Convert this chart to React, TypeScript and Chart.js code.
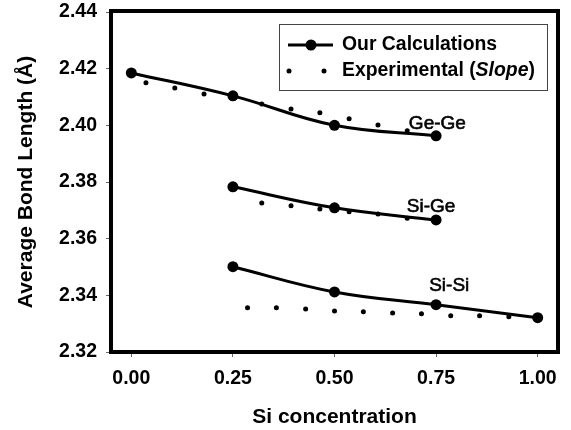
import React, { useEffect, useRef } from "react";
import { Chart, registerables } from "chart.js";

Chart.register(...registerables);

// ---- data ----
const xTickValues = [0, 0.25, 0.5, 0.75, 1.0];
const yTickValues = [2.32, 2.34, 2.36, 2.38, 2.4, 2.42, 2.44];

const calcGeGeX = [0, 0.25, 0.5, 0.75];
const calcGeGeY = [2.4185, 2.4104, 2.4, 2.3963];
const calcSiGeX = [0.25, 0.5, 0.75];
const calcSiGeY = [2.3783, 2.3709, 2.3666];
const calcSiSiX = [0.25, 0.5, 0.75, 1.0];
const calcSiSiY = [2.3501, 2.3412, 2.3367, 2.3321];

const expGeGeX = [0.036, 0.107, 0.179, 0.321, 0.393, 0.464, 0.536, 0.607, 0.679];
const expGeGeY = [2.415, 2.4132, 2.4111, 2.4075, 2.4058, 2.4044, 2.4023, 2.4001, 2.3981];
const expSiGeX = [0.321, 0.393, 0.464, 0.536, 0.607, 0.679];
const expSiGeY = [2.3726, 2.3716, 2.3705, 2.3695, 2.3687, 2.3672];
const expSiSiX = [0.286, 0.357, 0.429, 0.5, 0.571, 0.643, 0.714, 0.786, 0.857, 0.929];
const expSiSiY = [2.3356, 2.3356, 2.3352, 2.3345, 2.3342, 2.3338, 2.3335, 2.3328, 2.3328, 2.3324];

const seriesNames = ["Our Calculations", "Experimental"];
const curveLabels = ["Ge-Ge", "Si-Ge", "Si-Si"];
const curveLabelX = [0.683, 0.678, 0.733];
const curveLabelY = [2.4005, 2.3712, 2.3435];

const FONT = "'Liberation Sans', Arial, Helvetica, sans-serif";

const pts = (xs: number[], ys: number[]) => xs.map((x, i) => ({ x, y: ys[i] }));

const calcStyle = {
  borderColor: "#000",
  backgroundColor: "#000",
  borderWidth: 3,
  pointRadius: 5.5,
  pointBorderWidth: 0,
  tension: 0.4,
  showLine: true,
  fill: false,
};
const expStyle = {
  borderColor: "#000",
  backgroundColor: "#000",
  borderWidth: 0,
  pointRadius: 2.5,
  pointBorderWidth: 0,
  showLine: false,
  fill: false,
};

const bgPlugin = {
  id: "bg",
  beforeDraw(chart: any) {
    const { ctx, width, height } = chart;
    ctx.save();
    ctx.fillStyle = "#fff";
    ctx.fillRect(0, 0, width, height);
    ctx.restore();
  },
};

const overlayPlugin = {
  id: "overlay",
  afterDraw(chart: any) {
    const { ctx, chartArea } = chart;
    const xs = chart.scales.x;
    const ys = chart.scales.y;
    ctx.save();
    // frame
    ctx.strokeStyle = "#000";
    ctx.lineWidth = 4;
    ctx.strokeRect(chartArea.left, chartArea.top - 1, chartArea.right - chartArea.left, chartArea.bottom - chartArea.top + 1);

    // curve labels
    ctx.fillStyle = "#000";
    ctx.strokeStyle = "#000";
    ctx.lineWidth = 0.6;
    ctx.font = `19px ${FONT}`;
    ctx.textAlign = "left";
    ctx.textBaseline = "middle";
    curveLabels.forEach((t, i) => {
      const px = xs.getPixelForValue(curveLabelX[i]);
      const py = ys.getPixelForValue(curveLabelY[i]);
      ctx.fillText(t, px, py);
      ctx.strokeText(t, px, py);
    });

    // legend
    const lx = chartArea.right - 279;
    const ly = chartArea.top + 12;
    const lw = 268;
    const lh = 66;
    ctx.fillStyle = "#fff";
    ctx.fillRect(lx, ly, lw, lh);
    ctx.strokeStyle = "#444";
    ctx.lineWidth = 1;
    ctx.strokeRect(lx + 0.5, ly + 0.5, lw, lh);

    const row1 = ly + 21;
    const row2 = ly + 47;
    ctx.strokeStyle = "#000";
    ctx.lineWidth = 3;
    ctx.beginPath();
    ctx.moveTo(lx + 9, row1);
    ctx.lineTo(lx + 54, row1);
    ctx.stroke();
    ctx.fillStyle = "#000";
    ctx.beginPath();
    ctx.arc(lx + 32, row1, 5.5, 0, Math.PI * 2);
    ctx.fill();
    ctx.beginPath();
    ctx.arc(lx + 10, row2, 2.5, 0, Math.PI * 2);
    ctx.fill();
    ctx.beginPath();
    ctx.arc(lx + 45, row2, 2.5, 0, Math.PI * 2);
    ctx.fill();

    const tx = lx + 63;
    const fs = 19.4;
    ctx.font = `bold ${fs}px ${FONT}`;
    ctx.textAlign = "left";
    ctx.textBaseline = "middle";
    ctx.fillText(seriesNames[0], tx, row1);
    let cx = tx;
    const p1 = seriesNames[1] + " (";
    ctx.fillText(p1, cx, row2);
    cx += ctx.measureText(p1).width;
    ctx.font = `italic bold ${fs}px ${FONT}`;
    ctx.fillText("Slope", cx, row2);
    cx += ctx.measureText("Slope").width;
    ctx.font = `bold ${fs}px ${FONT}`;
    ctx.fillText(")", cx, row2);
    ctx.restore();
  },
};

export default function App() {
  const ref = useRef<HTMLCanvasElement | null>(null);
  useEffect(() => {
    document.body.style.margin = "0";
    const canvas = ref.current;
    if (!canvas) return;
    const chart = new Chart(canvas, {
      type: "line",
      data: {
        datasets: [
          { label: seriesNames[0], data: pts(calcGeGeX, calcGeGeY), ...calcStyle },
          { label: seriesNames[0], data: pts(calcSiGeX, calcSiGeY), ...calcStyle },
          { label: seriesNames[0], data: pts(calcSiSiX, calcSiSiY), ...calcStyle },
          { label: seriesNames[1], data: pts(expGeGeX, expGeGeY), ...expStyle },
          { label: seriesNames[1], data: pts(expSiGeX, expSiGeY), ...expStyle },
          { label: seriesNames[1], data: pts(expSiSiX, expSiSiY), ...expStyle },
        ] as any,
      },
      options: {
        animation: false,
        responsive: false,
        maintainAspectRatio: false,
        devicePixelRatio: 1,
        layout: { padding: { top: 12, right: 13, bottom: 0, left: 0 } },
        plugins: {
          legend: { display: false },
          tooltip: { enabled: false },
        },
        scales: {
          x: {
            type: "linear",
            min: -0.05,
            max: 1.05,
            afterBuildTicks: (s: any) => {
              s.ticks = xTickValues.map((v) => ({ value: v }));
            },
            afterFit: (s: any) => {
              s.height = 78;
              s.paddingLeft = 0;
              s.paddingRight = 0;
            },
            ticks: {
              callback: (v: any) => Number(v).toFixed(2),
              font: { family: FONT, size: 19.5, weight: "bold" },
              color: "#000",
              padding: 10,
              maxRotation: 0,
            },
            grid: { drawOnChartArea: false, drawTicks: true, tickLength: 5, color: "#666" },
            border: { display: false },
            title: {
              display: true,
              text: "Si concentration",
              font: { family: FONT, size: 21, weight: "bold" },
              color: "#000",
              padding: { top: 0, bottom: 0 },
            },
          },
          y: {
            type: "linear",
            min: 2.32,
            max: 2.44,
            afterBuildTicks: (s: any) => {
              s.ticks = yTickValues.map((v) => ({ value: v }));
            },
            afterFit: (s: any) => {
              s.width = 111;
              s.paddingTop = 0;
              s.paddingBottom = 0;
            },
            ticks: {
              callback: (v: any) => Number(v).toFixed(2),
              font: { family: FONT, size: 19.5, weight: "bold" },
              color: "#000",
              padding: 9,
            },
            grid: { drawOnChartArea: false, drawTicks: true, tickLength: 5, color: "#666" },
            border: { display: false },
            title: {
              display: true,
              text: "Average Bond Length (Å)",
              font: { family: FONT, size: 21, weight: "bold" },
              color: "#000",
              padding: { top: 14, bottom: 0 },
            },
          },
        },
      } as any,
      plugins: [bgPlugin, overlayPlugin],
    });
    return () => chart.destroy();
  }, []);
  return (
    <div style={{ position: "absolute", left: 0, top: 0, width: 571, height: 430 }}>
      <canvas ref={ref} width={571} height={430} style={{ display: "block" }} />
    </div>
  );
}
